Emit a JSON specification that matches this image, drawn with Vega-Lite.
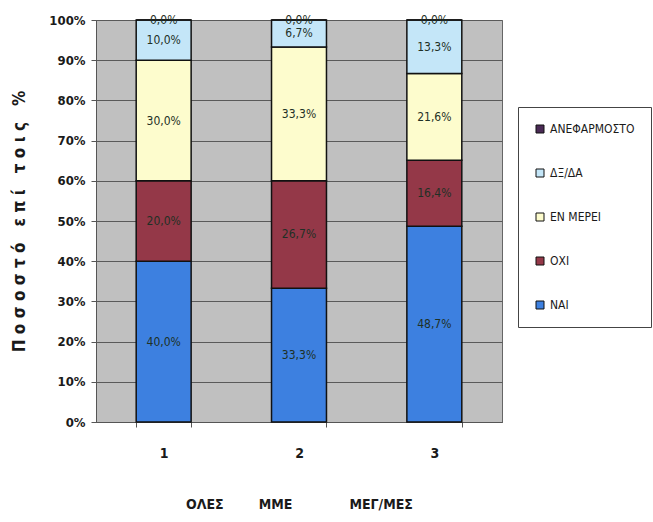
{
  "$schema": "https://vega.github.io/schema/vega-lite/v6.json",
  "width": 406,
  "height": 402,
  "autosize": {"type": "none"},
  "padding": {"left": 96, "top": 20, "right": 151, "bottom": 100},
  "background": "white",
  "config": {
    "locale": {"number": {"decimal": ",", "thousands": ".", "grouping": [3], "currency": ["", " €"]}},
    "font": "DejaVu Sans Condensed, Liberation Sans, sans-serif",
    "view": {"fill": "#c0c0c0", "stroke": "#666666", "strokeWidth": 1}
  },
  "data": {
    "values": [
      {"group": "1", "answer": "ΝΑΙ", "share": 0.400},
      {"group": "1", "answer": "ΟΧΙ", "share": 0.200},
      {"group": "1", "answer": "ΕΝ ΜΕΡΕΙ", "share": 0.300},
      {"group": "1", "answer": "ΔΞ/ΔΑ", "share": 0.100},
      {"group": "1", "answer": "ΑΝΕΦΑΡΜΟΣΤΟ", "share": 0.000},
      {"group": "2", "answer": "ΝΑΙ", "share": 0.333},
      {"group": "2", "answer": "ΟΧΙ", "share": 0.267},
      {"group": "2", "answer": "ΕΝ ΜΕΡΕΙ", "share": 0.333},
      {"group": "2", "answer": "ΔΞ/ΔΑ", "share": 0.067},
      {"group": "2", "answer": "ΑΝΕΦΑΡΜΟΣΤΟ", "share": 0.000},
      {"group": "3", "answer": "ΝΑΙ", "share": 0.487},
      {"group": "3", "answer": "ΟΧΙ", "share": 0.164},
      {"group": "3", "answer": "ΕΝ ΜΕΡΕΙ", "share": 0.216},
      {"group": "3", "answer": "ΔΞ/ΔΑ", "share": 0.133},
      {"group": "3", "answer": "ΑΝΕΦΑΡΜΟΣΤΟ", "share": 0.000}
    ]
  },
  "transform": [
    {"calculate": "indexof(['ΝΑΙ','ΟΧΙ','ΕΝ ΜΕΡΕΙ','ΔΞ/ΔΑ','ΑΝΕΦΑΡΜΟΣΤΟ'], datum.answer)", "as": "rank"},
    {"stack": "share", "groupby": ["group"], "sort": [{"field": "rank", "order": "ascending"}], "as": ["lo", "hi"]},
    {"calculate": "(datum.lo + datum.hi) / 2", "as": "mid"}
  ],
  "encoding": {
    "x": {
      "field": "group",
      "type": "ordinal",
      "scale": {"paddingInner": 0.594, "paddingOuter": 0.297},
      "axis": {
        "labelAngle": 0,
        "labelFontSize": 14,
        "labelFontWeight": "bold",
        "labelColor": "#1a1a1a",
        "labelPadding": 19,
        "tickBand": "extent",
        "tickSize": 5,
        "tickColor": "#555555",
        "domainColor": "#555555",
        "title": "ΟΛΕΣ\u00a0\u00a0\u00a0\u00a0\u00a0\u00a0\u00a0\u00a0ΜΜΕ\u00a0\u00a0\u00a0\u00a0\u00a0\u00a0\u00a0\u00a0\u00a0\u00a0\u00a0\u00a0\u00a0ΜΕΓ/ΜΕΣ",
        "titleFontSize": 14,
        "titleFontWeight": "bold",
        "titleColor": "#1a1a1a",
        "titlePadding": 37
      }
    }
  },
  "layer": [
    {
      "mark": {"type": "bar", "stroke": "#111111", "strokeWidth": 1.5},
      "encoding": {
        "y": {
          "field": "lo",
          "type": "quantitative",
          "scale": {"domain": [0, 1], "nice": false},
          "axis": {
            "format": ".0%",
            "values": [0, 0.1, 0.2, 0.3, 0.4, 0.5, 0.6, 0.7, 0.8, 0.9, 1],
            "grid": true,
            "gridColor": "#5a5a5a",
            "gridWidth": 1,
            "domainColor": "#555555",
            "tickColor": "#555555",
            "tickSize": 5,
            "labelPadding": 6,
            "labelFontSize": 13,
            "labelFontWeight": "bold",
            "labelColor": "#1a1a1a",
            "title": "Π\u00a0ο\u00a0σ\u00a0ο\u00a0σ\u00a0τ\u00a0ό\u00a0\u00a0\u00a0ε\u00a0π\u00a0ί\u00a0\u00a0\u00a0τ\u00a0ο\u00a0ι\u00a0ς\u00a0\u00a0\u00a0%",
            "titleFontSize": 17,
            "titleFontWeight": "bold",
            "titleColor": "#1a1a1a",
            "titlePadding": 20
          }
        },
        "y2": {"field": "hi"},
        "color": {
          "field": "answer",
          "type": "nominal",
          "scale": {
            "domain": ["ΑΝΕΦΑΡΜΟΣΤΟ", "ΔΞ/ΔΑ", "ΕΝ ΜΕΡΕΙ", "ΟΧΙ", "ΝΑΙ"],
            "range": ["#4a2a55", "#c4e6f8", "#fdfccd", "#943848", "#3d80e0"]
          },
          "legend": {
            "orient": "none",
            "legendX": 422,
            "legendY": 87,
            "title": null,
            "padding": 16,
            "strokeColor": "#444444",
            "fillColor": "white",
            "symbolType": "square",
            "symbolSize": 64,
            "symbolStrokeColor": "#111111",
            "symbolStrokeWidth": 1,
            "labelFontSize": 12,
            "labelColor": "#1a1a1a",
            "labelOffset": 4,
            "rowPadding": 32
          }
        }
      }
    },
    {
      "mark": {"type": "text", "align": "center", "baseline": "middle", "fontSize": 12, "color": "#1f3026"},
      "encoding": {
        "y": {"field": "mid", "type": "quantitative"},
        "text": {"field": "share", "type": "quantitative", "format": ".1%"}
      }
    }
  ]
}
